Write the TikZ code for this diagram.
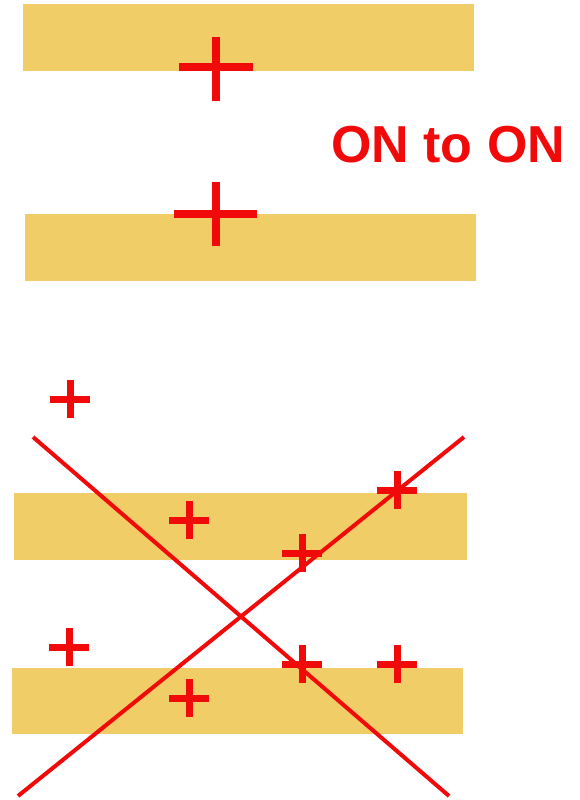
\documentclass[tikz,border=0pt]{standalone}
\usepackage{fontspec}
\setmainfont{Liberation Sans}
\usetikzlibrary{positioning}
\definecolor{stripgold}{HTML}{F0CD66}
\definecolor{markred}{HTML}{F00A0A}

\begin{document}
\begin{tikzpicture}[
    x=1pt, y=-1pt,
    strip/.style={fill=stripgold},
    cross/.style={draw=markred, line width=4pt},
    bigplus/.style={draw=markred, line width=8pt},
    smallplus/.style={draw=markred, line width=7pt},
    caption/.style={text=markred, font=\fontsize{52}{52}\selectfont\bfseries, inner sep=0pt, anchor=base west},
]
\useasboundingbox (0,0) rectangle (580,800);

% Upper pair of strips
\fill[strip] (23,4) rectangle (474,71);
\fill[strip] (25,214) rectangle (476,281);

% Upper plus marks
\draw[bigplus] (179,67) -- (253,67) (216,37) -- (216,101);
\draw[bigplus] (174,214) -- (257,214) (216,182) -- (216,246);

% Caption
\node[caption] (onon) at (331,162) {ON to ON};

% Lower pair of strips
\fill[strip] (14,493) rectangle (467,560);
\fill[strip] (12,668) rectangle (463,734);

% Crossing lines
\coordinate (ltop) at (33,437);
\coordinate (lbot) at (449,796);
\coordinate (rtop) at (464,437);
\coordinate (rbot) at (18,796);
\draw[cross] (ltop) -- (lbot);
\draw[cross] (rtop) -- (rbot);

% Lower plus marks
\foreach \px/\py in {70/399, 189/520, 302/553, 397/490, 69/647, 189/698, 302/664, 397/664}
    \draw[smallplus] (\px-20,\py) -- (\px+20,\py) (\px,\py-19) -- (\px,\py+19);

\end{tikzpicture}
\end{document}
